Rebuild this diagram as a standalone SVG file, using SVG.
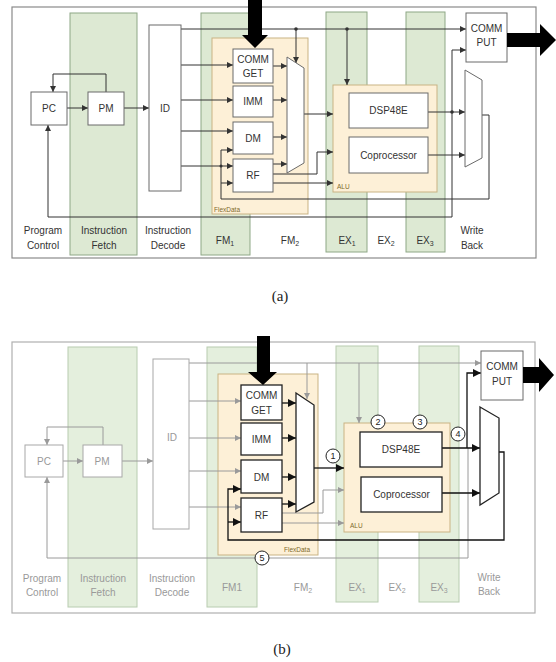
<svg xmlns="http://www.w3.org/2000/svg" width="556" height="662" viewBox="0 0 556 662">
<style>
text{font-family:"Liberation Sans","Open Sans",sans-serif;font-size:10px;fill:#333;text-anchor:middle}
.cap{font-family:"Liberation Serif",serif;font-size:15px;fill:#222}
.frA{fill:#fff;stroke:#8a8a8a;stroke-width:1.2}
.frB{fill:#fff;stroke:#b0b0b0;stroke-width:1.2}
.grA{fill:#dde9d3;stroke:#8ea786;stroke-width:1}
.grB{fill:#e4efdd;stroke:#b8ccb0;stroke-width:1}
.org{fill:#fdf0d7;stroke:#c9b383;stroke-width:1}
.bxA{fill:#fff;stroke:#6a6a6a;stroke-width:1}
.bxG{fill:#fff;stroke:#a8a8a8;stroke-width:1}
.bxK{fill:#fff;stroke:#222;stroke-width:1.3}
.lA{fill:none;stroke:#333;stroke-width:1}
.lG{fill:none;stroke:#9a9a9a;stroke-width:1}
.lK{fill:none;stroke:#111;stroke-width:1.3}
.gt{fill:#999}
.sm{font-size:6.5px;text-anchor:start;fill:#7d6a2c}
.num{font-size:9px;fill:#222}
.thick{fill:#000}
</style>
<defs>
<marker id="mA" markerWidth="6" markerHeight="6" refX="6" refY="3" orient="auto" markerUnits="userSpaceOnUse"><path d="M0,0 L6,3 L0,6 z" fill="#333"/></marker>
<marker id="mG" markerWidth="6" markerHeight="6" refX="6" refY="3" orient="auto" markerUnits="userSpaceOnUse"><path d="M0,0 L6,3 L0,6 z" fill="#9a9a9a"/></marker>
<marker id="mK" markerWidth="8" markerHeight="8" refX="8" refY="4" orient="auto" markerUnits="userSpaceOnUse"><path d="M0,0 L8,4 L0,8 z" fill="#111"/></marker>
</defs>

<!-- ===================== (a) ===================== -->
<g id="a-frame"><rect class="frA" x="12" y="7" width="524" height="251"/></g>
<g id="a-stages">
<rect class="grA" x="70" y="13" width="67" height="242"/>
<rect class="grA" x="201" y="13" width="49" height="242"/>
<rect class="grA" x="326" y="12" width="41" height="240"/>
<rect class="grA" x="406" y="12" width="39" height="240"/>
</g>
<g id="a-flexdata"><rect class="org" x="212" y="38" width="96" height="176"/><text class="sm" x="214" y="212">FlexData</text></g>
<g id="a-alu"><rect class="org" x="333" y="85" width="104" height="107"/><text class="sm" x="337" y="189">ALU</text></g>

<g id="a-connectors">
<path class="lA" d="M106,92 V74 H53 V92" marker-end="url(#mA)"/>
<path class="lA" d="M67,108 H88" marker-end="url(#mA)"/>
<path class="lA" d="M124,108 H149" marker-end="url(#mA)"/>
<path class="lA" d="M181,29 H466" marker-end="url(#mA)"/>
<path class="lA" d="M296,29 V63" marker-end="url(#mA)"/>
<path class="lA" d="M347,29 V85" marker-end="url(#mA)"/>
<path class="lA" d="M181,65 H233" marker-end="url(#mA)"/>
<path class="lA" d="M181,100 H233" marker-end="url(#mA)"/>
<path class="lA" d="M181,131 H233" marker-end="url(#mA)"/>
<path class="lA" d="M181,166 H233" marker-end="url(#mA)"/>
<path class="lA" d="M273,66 H287" marker-end="url(#mA)"/>
<path class="lA" d="M273,100 H287" marker-end="url(#mA)"/>
<path class="lA" d="M273,137 H287" marker-end="url(#mA)"/>
<path class="lA" d="M273,164 H287" marker-end="url(#mA)"/>
<path class="lA" d="M304,114 H333" marker-end="url(#mA)"/>
<path class="lA" d="M273,174 H317 V152 H333" marker-end="url(#mA)"/>
<path class="lA" d="M273,183 H333" marker-end="url(#mA)"/>
<path class="lA" d="M428,112 H465" marker-end="url(#mA)"/>
<path class="lA" d="M428,155 H465" marker-end="url(#mA)"/>
<path class="lA" d="M452,112 V50 H466" marker-end="url(#mA)"/>
<path class="lA" d="M452,112 V217 H48 V125" marker-end="url(#mA)"/>
<path class="lA" d="M482,115 H489 V199 H221 V150 H233" marker-end="url(#mA)"/>
<path class="lA" d="M221,183 H233" marker-end="url(#mA)"/>
<circle cx="296" cy="29" r="1.8" fill="#333"/>
<circle cx="347" cy="29" r="1.8" fill="#333"/>
<circle cx="452" cy="112" r="1.8" fill="#333"/>
<circle cx="221" cy="166" r="1.5" fill="#333"/>
</g>

<g id="a-pc"><rect class="bxA" x="31" y="92" width="36" height="33"/><text x="49" y="112">PC</text></g>
<g id="a-pm"><rect class="bxA" x="88" y="92" width="36" height="33"/><text x="106" y="112">PM</text></g>
<g id="a-id"><rect class="bxA" x="149" y="25" width="32" height="166"/><text x="165" y="112">ID</text></g>
<g id="a-commget"><rect class="bxA" x="233" y="49" width="40" height="34"/><text x="253" y="63">COMM</text><text x="253" y="77">GET</text></g>
<g id="a-imm"><rect class="bxA" x="233" y="86" width="40" height="31"/><text x="253" y="105">IMM</text></g>
<g id="a-dm"><rect class="bxA" x="233" y="122" width="40" height="32"/><text x="253" y="142">DM</text></g>
<g id="a-rf"><rect class="bxA" x="233" y="159" width="40" height="33"/><text x="253" y="179">RF</text></g>
<g id="a-mux1"><polygon class="bxA" points="287,57 304,68 304,163 287,173"/></g>
<g id="a-dsp"><rect class="bxA" x="349" y="93" width="79" height="35"/><text x="388.5" y="114">DSP48E</text></g>
<g id="a-cop"><rect class="bxA" x="349" y="137" width="79" height="36"/><text x="388.5" y="159">Coprocessor</text></g>
<g id="a-mux2"><polygon class="bxA" points="465,70 482,80 482,158 465,167"/></g>
<g id="a-commput"><rect class="bxA" x="466" y="13" width="41" height="49"/><text x="486.5" y="32">COMM</text><text x="486.5" y="46">PUT</text></g>
<g id="a-in"><polygon class="thick" points="248,0 262,0 262,35 268,35 255,48 242,35 248,35"/></g>
<g id="a-out"><polygon class="thick" points="507,33 540,33 540,24 556,40 540,56 540,47 507,47"/></g>

<g id="a-labels">
<text x="43" y="234">Program</text><text x="43" y="249">Control</text>
<text x="104" y="234">Instruction</text><text x="104" y="249">Fetch</text>
<text x="168" y="234">Instruction</text><text x="168" y="249">Decode</text>
<text x="225" y="244">FM<tspan font-size="7" dy="2">1</tspan></text>
<text x="290" y="244">FM<tspan font-size="7" dy="2">2</tspan></text>
<text x="347" y="244">EX<tspan font-size="7" dy="2">1</tspan></text>
<text x="386" y="244">EX<tspan font-size="7" dy="2">2</tspan></text>
<text x="425" y="244">EX<tspan font-size="7" dy="2">3</tspan></text>
<text x="472" y="234">Write</text><text x="472" y="249">Back</text>
</g>
<text class="cap" x="280" y="301">(a)</text>

<!-- ===================== (b) ===================== -->
<g id="b-frame"><rect class="frB" x="12" y="342" width="523" height="271"/></g>
<g id="b-stages">
<rect class="grB" x="68" y="347" width="69" height="260"/>
<rect class="grB" x="207" y="347" width="50" height="260"/>
<rect class="grB" x="336" y="346" width="42" height="256"/>
<rect class="grB" x="419" y="346" width="40" height="256"/>
</g>
<g id="b-flexdata"><rect class="org" x="218" y="374" width="100" height="181"/><text class="sm" x="284" y="552">FlexData</text></g>
<g id="b-alu"><rect class="org" x="344" y="423" width="106" height="109"/><text class="sm" x="350" y="528">ALU</text></g>

<g id="b-connectors">
<path class="lG" d="M103,445 V427 H47 V445" marker-end="url(#mG)"/>
<path class="lG" d="M63,461 H83" marker-end="url(#mG)"/>
<path class="lG" d="M122,461 H153" marker-end="url(#mG)"/>
<path class="lG" d="M189,363 H481" marker-end="url(#mG)"/>
<path class="lG" d="M307,363 V399" marker-end="url(#mG)"/>
<path class="lG" d="M359,363 V423" marker-end="url(#mG)"/>
<path class="lG" d="M189,401 H241" marker-end="url(#mG)"/>
<path class="lG" d="M189,438 H241" marker-end="url(#mG)"/>
<path class="lG" d="M189,471 H241" marker-end="url(#mG)"/>
<path class="lG" d="M189,507 H241" marker-end="url(#mG)"/>
<path class="lG" d="M282,513 H323 V490 H344" marker-end="url(#mG)"/>
<path class="lG" d="M282,523 H344" marker-end="url(#mG)"/>
<path class="lG" d="M468,448 V558 H47 V477" marker-end="url(#mG)"/>
<path class="lK" d="M282,403 H296" marker-end="url(#mK)"/>
<path class="lK" d="M282,438 H296" marker-end="url(#mK)"/>
<path class="lK" d="M282,477 H296" marker-end="url(#mK)"/>
<path class="lK" d="M282,504 H296" marker-end="url(#mK)"/>
<path class="lK" d="M314,468 H344" marker-end="url(#mK)"/>
<path class="lK" d="M442,448 H480" marker-end="url(#mK)"/>
<path class="lK" d="M467,448 V373 H481" marker-end="url(#mK)"/>
<path class="lK" d="M442,493 H480" marker-end="url(#mK)"/>
<path class="lK" d="M499,452 H504 V540 H228 V489 H241" marker-end="url(#mK)"/>
<path class="lK" d="M228,522 H241" marker-end="url(#mK)"/>
</g>

<g id="b-pc"><rect class="bxG" x="25" y="445" width="38" height="32"/><text class="gt" x="44" y="465">PC</text></g>
<g id="b-pm"><rect class="bxG" x="83" y="445" width="39" height="32"/><text class="gt" x="102" y="465">PM</text></g>
<g id="b-id"><rect class="bxG" x="153" y="359" width="36" height="170"/><text class="gt" x="172" y="441">ID</text></g>
<g id="b-commget"><rect class="bxK" x="241" y="385" width="41" height="35"/><text x="261.5" y="399">COMM</text><text x="261.5" y="414">GET</text></g>
<g id="b-imm"><rect class="bxK" x="241" y="423" width="41" height="32"/><text x="261.5" y="443">IMM</text></g>
<g id="b-dm"><rect class="bxK" x="241" y="460" width="41" height="33"/><text x="261.5" y="481">DM</text></g>
<g id="b-rf"><rect class="bxK" x="241" y="498" width="41" height="34"/><text x="261.5" y="519">RF</text></g>
<g id="b-mux1"><polygon class="bxK" points="296,393 314,405 314,502 296,512"/></g>
<g id="b-dsp"><rect class="bxK" x="360" y="432" width="82" height="35"/><text x="401" y="453">DSP48E</text></g>
<g id="b-cop"><rect class="bxK" x="361" y="477" width="81" height="35"/><text x="401.5" y="498">Coprocessor</text></g>
<g id="b-mux2"><polygon class="bxK" points="480,407 499,418 499,493 480,505"/></g>
<g id="b-commput"><rect class="bxA" x="481" y="351" width="42" height="49"/><text x="502" y="370">COMM</text><text x="502" y="385">PUT</text></g>
<g id="b-in"><polygon class="thick" points="257,336 270,336 270,372 277,372 263,385 248,372 257,372"/></g>
<g id="b-out"><polygon class="thick" points="523,367 539,367 539,358 554,375 539,392 539,383 523,383"/></g>

<g id="b-markers">
<g id="c1"><circle cx="333" cy="456" r="7" fill="#fff" stroke="#222"/><text class="num" x="333" y="459">1</text></g>
<g id="c2"><circle cx="378" cy="422" r="7" fill="#fff" stroke="#222"/><text class="num" x="378" y="425">2</text></g>
<g id="c3"><circle cx="420" cy="422" r="7" fill="#fff" stroke="#222"/><text class="num" x="420" y="425">3</text></g>
<g id="c4"><circle cx="458" cy="434" r="7" fill="#fff" stroke="#222"/><text class="num" x="458" y="437">4</text></g>
<g id="c5"><circle cx="262" cy="558" r="7" fill="#fff" stroke="#222"/><text class="num" x="262" y="561">5</text></g>
</g>

<g id="b-labels">
<text class="gt" x="42" y="582">Program</text><text class="gt" x="42" y="596">Control</text>
<text class="gt" x="103" y="582">Instruction</text><text class="gt" x="103" y="596">Fetch</text>
<text class="gt" x="172" y="582">Instruction</text><text class="gt" x="172" y="596">Decode</text>
<text class="gt" x="232" y="591">FM1</text>
<text class="gt" x="303" y="591">FM<tspan font-size="7" dy="2">2</tspan></text>
<text class="gt" x="357" y="591">EX<tspan font-size="7" dy="2">1</tspan></text>
<text class="gt" x="397" y="591">EX<tspan font-size="7" dy="2">2</tspan></text>
<text class="gt" x="439" y="591">EX<tspan font-size="7" dy="2">3</tspan></text>
<text class="gt" x="489" y="581">Write</text><text class="gt" x="489" y="595">Back</text>
</g>
<text class="cap" x="282" y="654">(b)</text>
</svg>
